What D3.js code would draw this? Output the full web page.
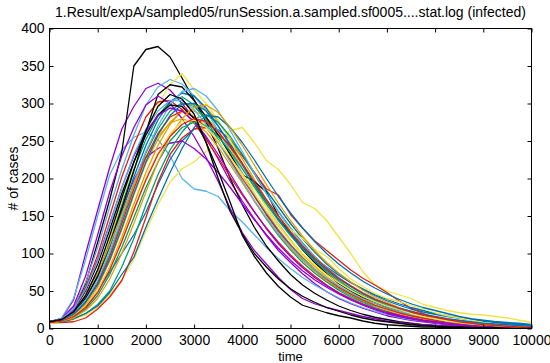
<!DOCTYPE html>
<html>
<head>
<meta charset="utf-8">
<script src="https://cdn.jsdelivr.net/npm/d3@7"></script>
<style>
  body { margin: 0; background: #fff; }
  text { font-family: "Liberation Sans", Arial, sans-serif; fill: #000; }
</style>
</head>
<body>
<div id="chart"></div>
<script>
// sample times of the runs (every 250 time units)
var times = d3.range(0, 10001, 250);

var xTicks = [0, 1000, 2000, 3000, 4000, 5000, 6000, 7000, 8000, 9000, 10000];
var yTicks = [0, 50, 100, 150, 200, 250, 300, 350, 400];

// gnuplot default line colours, cycled over the runs
var lineColors = ["#9400d3", "#009e73", "#56b4e9", "#e69f00", "#f0e442", "#0072b2", "#e51e10", "#000000"];

var title = "1.Result/expA/sampled05/runSession.a.sampled.sf0005....stat.log (infected)";

// infected counts per run
var run00 = [9,13,38,100,158,215,266,296,320,327,318,300,280,254,226,196,170,146,124,104,88,73,60,49,40,33,27,22,17,14,11,9,7,5,4,3,2,2,1,1,1];
var run01 = [8,10,19,36,62,100,145,192,234,266,290,301,296,280,258,232,205,178,152,130,110,92,77,64,53,44,36,30,25,20,16,13,10,8,6,5,4,3,2,2,1];
var run02 = [8,14,40,92,150,205,238,255,262,252,230,200,186,183,176,157,142,125,108,93,80,68,58,49,41,34,28,23,19,15,12,10,8,6,5,4,3,2,2,1,1];
var run03 = [8,10,17,32,55,90,132,178,220,252,275,289,290,282,264,240,214,188,162,139,118,99,83,69,57,47,39,32,26,21,17,14,11,9,7,5,4,3,3,2,2];
var run04 = [7,8,12,18,28,45,65,92,130,165,195,213,222,236,250,264,268,248,224,212,192,168,160,144,122,100,76,58,50,45,40,32,28,24,21,19,18,16,14,11,8];
var run05 = [8,10,17,30,50,75,100,125,155,192,225,250,266,272,265,252,232,208,184,162,140,120,102,86,73,62,52,44,37,31,26,22,19,16,14,12,10,8,6,5,4];
var run06 = [8,8,9,14,26,42,64,102,148,195,232,254,266,268,258,245,230,208,186,178,152,134,117,104,91,78,67,58,48,37,27,20,15,12,9,6,4,3,2,1,1];
var run07 = [9,12,25,60,115,172,235,350,372,376,362,334,305,275,240,200,165,135,110,90,72,58,47,38,30,24,19,15,12,9,7,5,4,3,2,2,1,1,1,0,0];
var run08 = [8,11,22,45,78,118,160,198,228,240,247,250,240,226,208,188,166,145,125,107,91,77,65,55,46,38,31,25,20,16,13,10,8,6,5,4,3,2,2,1,1];
var run09 = [9,11,21,42,72,115,165,212,252,283,303,309,298,278,252,224,196,170,146,124,105,88,74,62,51,42,35,28,23,18,15,12,9,7,6,4,3,3,2,1,1];
var run10 = [8,12,28,62,108,162,212,258,298,322,332,326,310,290,264,236,208,180,155,132,112,95,80,67,56,46,38,31,25,20,16,13,10,8,6,5,4,3,2,2,1];
var run11 = [8,10,16,30,50,82,122,166,208,244,272,292,300,294,276,252,226,199,172,148,126,106,89,75,62,51,42,35,28,23,18,15,12,9,7,6,4,3,3,2,2];
var run12 = [8,11,22,44,76,120,170,220,262,298,325,340,318,300,278,250,220,190,162,138,116,97,81,67,56,46,38,31,25,20,16,13,10,8,6,5,4,3,2,2,1];
var run13 = [9,12,22,40,68,108,155,202,244,278,302,314,310,294,270,244,218,192,168,146,127,110,95,82,71,61,53,45,39,33,28,24,20,17,14,12,10,9,8,7,5];
var run14 = [9,12,26,55,98,150,202,245,282,302,304,292,274,252,228,202,178,155,134,115,98,83,70,58,48,40,33,27,22,18,14,11,9,7,5,4,3,2,2,1,1];
var run15 = [8,11,20,40,70,112,160,210,262,312,325,322,304,282,258,232,205,196,182,150,126,105,88,73,60,50,41,34,28,23,18,15,12,9,7,6,4,3,3,2,1];
var run16 = [9,13,30,70,125,182,230,268,298,310,300,280,256,228,196,160,128,104,86,68,52,40,33,28,24,20,16,13,10,8,6,5,4,3,2,2,1,1,1,0,0];
var run17 = [8,9,13,20,32,50,82,120,165,205,238,262,280,285,275,256,232,206,180,156,134,114,96,80,67,56,46,38,31,25,20,16,13,10,8,6,5,4,3,2,2];
var run18 = [8,11,20,38,64,102,148,194,236,270,298,316,320,310,290,264,236,207,180,155,133,113,96,81,68,57,48,40,33,27,22,18,15,12,10,8,7,6,5,4,3];
var run19 = [8,11,22,44,74,112,152,192,228,256,274,280,274,262,242,218,194,170,147,126,107,91,77,64,54,45,37,31,25,21,17,13,11,8,7,5,4,3,2,2,1];
var run20 = [7,10,18,34,58,94,136,180,222,258,282,290,284,270,250,228,206,186,166,148,132,120,106,96,80,66,56,47,40,36,31,26,21,17,14,11,8,6,4,3,2];
var run21 = [8,9,13,20,30,48,72,95,135,172,208,240,268,284,282,268,248,225,200,176,154,134,116,100,86,74,63,54,46,39,33,28,24,20,16,13,11,9,7,6,5];
var run22 = [8,10,18,35,60,96,140,186,228,260,282,290,282,268,248,225,200,176,152,130,111,94,79,66,55,46,38,31,26,21,17,14,11,9,7,5,4,3,3,2,2];
var run23 = [9,12,24,50,86,132,180,222,258,285,298,296,280,248,210,168,124,96,74,56,42,31,26,21,17,14,10,7,5,4,3,2,2,1,1,1,0,0,0,0,0];
var run24 = [8,11,24,52,92,140,188,230,262,284,294,290,276,256,232,206,180,156,133,113,96,81,68,57,47,39,32,26,21,17,14,11,9,7,5,4,3,2,2,1,1];
var run25 = [8,10,15,26,44,72,108,148,188,222,250,268,275,270,256,236,213,189,166,144,124,106,90,76,64,53,44,37,30,25,20,16,13,10,8,6,5,4,3,2,2];
var run26 = [9,13,26,52,90,138,188,232,266,290,304,304,292,272,248,222,196,171,148,127,109,93,79,67,57,48,40,34,28,23,19,16,13,10,8,7,5,4,3,3,2];
var run27 = [8,10,14,24,40,66,100,140,182,222,256,280,295,298,288,268,244,218,192,167,144,123,104,88,74,62,51,42,35,28,23,18,15,12,9,7,6,4,3,3,2];
var run28 = [7,10,17,30,50,80,118,160,200,234,260,276,278,268,250,228,204,180,157,136,117,100,85,72,61,51,43,36,30,25,20,16,13,10,8,6,5,4,3,2,2];
var run29 = [8,11,19,35,58,92,134,180,222,258,284,299,300,290,270,246,220,194,169,146,126,108,92,78,66,56,47,39,33,27,23,19,16,13,11,9,7,6,5,4,3];
var run30 = [8,10,16,28,48,78,116,158,198,232,256,272,280,276,262,242,220,196,172,150,129,110,94,80,67,57,47,39,33,27,22,18,15,12,9,7,5,4,3,2,1];
var run31 = [9,12,22,44,78,124,174,222,264,296,312,306,286,248,200,156,126,100,82,66,53,43,35,28,23,18,14,11,9,7,5,4,3,2,2,1,1,1,0,0,0];

var runs = [run00, run01, run02, run03, run04, run05, run06, run07,
            run08, run09, run10, run11, run12, run13, run14, run15,
            run16, run17, run18, run19, run20, run21, run22, run23,
            run24, run25, run26, run27, run28, run29, run30, run31];

var width = 550,
    height = 363,
    margin = { left: 49.5, right: 18.5, top: 28.5, bottom: 34.5 };

function translate(xDelta, yDelta){
    return "translate(" + xDelta + "," + yDelta + ")";
}

var ww = width - margin.left - margin.right;
var hh = height - margin.top - margin.bottom;

var xScale = d3.scaleLinear().domain([0, 10000]).range([0, ww]);
var yScale = d3.scaleLinear().domain([0, 400]).range([hh, 0]);

var svg = d3.select("#chart")
    .append("svg")
    .attr("width", width)
    .attr("height", height);

svg.append("text")
    .attr("x", margin.left + ww / 2)
    .attr("y", 17)
    .attr("text-anchor", "middle")
    .style("font-size", "14px")
    .text(title);

var g = svg.append("g").attr("transform", translate(margin.left, margin.top));

g.append("clipPath").attr("id", "plotclip")
    .append("rect").attr("x", 0).attr("y", 0).attr("width", ww).attr("height", hh);

var line = d3.line()
    .x(function(d, i){ return xScale(times[i]); })
    .y(function(d){ return yScale(d); });

g.append("g")
    .attr("clip-path", "url(#plotclip)")
    .selectAll(".run")
    .data(runs)
    .enter()
    .append("path")
    .attr("class", "run")
    .attr("d", line)
    .attr("fill", "none")
    .attr("stroke", function(d, i){ return lineColors[i % lineColors.length]; })
    .attr("stroke-width", 1.3)
    .attr("stroke-linejoin", "round");

// axes, gnuplot style: ticks inside, mirrored on all four sides
var xAxis = d3.axisBottom(xScale).tickValues(xTicks).tickSizeInner(-4).tickSizeOuter(0)
    .tickPadding(7).tickFormat(d3.format("d"));
var xAxisTop = d3.axisTop(xScale).tickValues(xTicks).tickSizeInner(-4).tickSizeOuter(0).tickFormat("");
var yAxis = d3.axisLeft(yScale).tickValues(yTicks).tickSizeInner(-4).tickSizeOuter(0)
    .tickPadding(5).tickFormat(d3.format("d"));
var yAxisRight = d3.axisRight(yScale).tickValues(yTicks).tickSizeInner(-4).tickSizeOuter(0).tickFormat("");

g.append("g").attr("class", "x-axis").attr("transform", translate(0, hh)).call(xAxis);
g.append("g").attr("class", "x-axis-top").call(xAxisTop);
g.append("g").attr("class", "y-axis").call(yAxis);
g.append("g").attr("class", "y-axis-right").attr("transform", translate(ww, 0)).call(yAxisRight);

g.selectAll(".domain").remove();
g.selectAll(".tick line").attr("stroke", "#000");
g.selectAll(".tick text")
    .style("font-size", "14px")
    .style("font-family", "'Liberation Sans', Arial, sans-serif")
    .attr("fill", "#000");

g.append("rect")
    .attr("x", 0).attr("y", 0)
    .attr("width", ww).attr("height", hh)
    .attr("fill", "none")
    .attr("stroke", "#000")
    .attr("stroke-width", 1);

svg.append("text")
    .attr("x", margin.left + ww / 2)
    .attr("y", 361)
    .attr("text-anchor", "middle")
    .style("font-size", "13px")
    .text("time");

svg.append("text")
    .attr("transform", translate(18, margin.top + hh / 2) + " rotate(-90)")
    .attr("text-anchor", "middle")
    .style("font-size", "14px")
    .text("# of cases");
</script>
</body>
</html>
